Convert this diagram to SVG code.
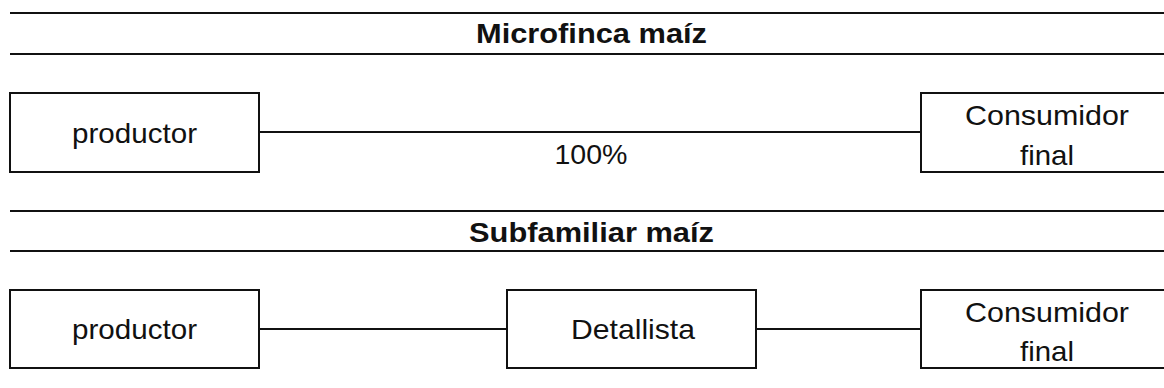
<svg xmlns="http://www.w3.org/2000/svg" width="1164" height="388" viewBox="0 0 1164 388">
<style>
.bg{fill:#fff}
.rule{stroke:#111;stroke-width:2;fill:none}
.box{fill:#fff;stroke:#111;stroke-width:2}
.conn{stroke:#111;stroke-width:2;fill:none}
.t{font-family:"Liberation Sans",Arial,sans-serif;font-size:28px;fill:#111;text-anchor:middle}
.h{font-family:"Liberation Sans",Arial,sans-serif;font-size:28px;font-weight:bold;fill:#111;text-anchor:middle}
</style>
<rect class="bg" x="0" y="0" width="1164" height="388"/>
<g id="section-microfinca">
  <line class="rule" x1="10" y1="13" x2="1164" y2="13"/>
  <line class="rule" x1="10" y1="54" x2="1164" y2="54"/>
  <text class="h" x="591.5" y="43" textLength="231" lengthAdjust="spacingAndGlyphs">Microfinca maíz</text>
</g>
<g id="section-subfamiliar">
  <line class="rule" x1="10" y1="211" x2="1164" y2="211"/>
  <line class="rule" x1="10" y1="251" x2="1164" y2="251"/>
  <text class="h" x="591.5" y="241.5" textLength="245" lengthAdjust="spacingAndGlyphs">Subfamiliar maíz</text>
</g>
<g id="connectors">
  <line class="conn" x1="259" y1="132" x2="921" y2="132"/>
  <text class="t" x="591" y="164" textLength="73" lengthAdjust="spacingAndGlyphs">100%</text>
  <line class="conn" x1="259" y1="329" x2="507" y2="329"/>
  <line class="conn" x1="756" y1="329" x2="921" y2="329"/>
</g>
<g id="n1-productor">
  <rect class="box" x="10" y="93" width="249" height="79"/>
  <text class="t" x="134.5" y="142.5" textLength="125" lengthAdjust="spacingAndGlyphs">productor</text>
</g>
<g id="n1-consumidor">
  <rect class="box" x="921" y="93" width="260" height="79"/>
  <text class="t" x="1047" y="125" textLength="164" lengthAdjust="spacingAndGlyphs">Consumidor</text>
  <text class="t" x="1047" y="165" textLength="54" lengthAdjust="spacingAndGlyphs">final</text>
</g>
<g id="n2-productor">
  <rect class="box" x="10" y="290" width="249" height="78"/>
  <text class="t" x="134.5" y="339" textLength="125" lengthAdjust="spacingAndGlyphs">productor</text>
</g>
<g id="n2-detallista">
  <rect class="box" x="507" y="290" width="249" height="78"/>
  <text class="t" x="633" y="339" textLength="124" lengthAdjust="spacingAndGlyphs">Detallista</text>
</g>
<g id="n2-consumidor">
  <rect class="box" x="921" y="290" width="260" height="78"/>
  <text class="t" x="1047" y="322" textLength="164" lengthAdjust="spacingAndGlyphs">Consumidor</text>
  <text class="t" x="1047" y="361" textLength="54" lengthAdjust="spacingAndGlyphs">final</text>
</g>
</svg>
